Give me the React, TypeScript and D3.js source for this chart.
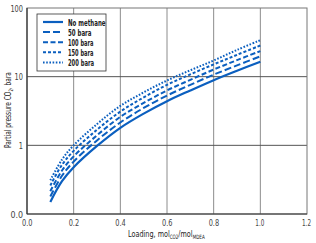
import { curveCatmullRom, line as d3Line, scaleLinear, scaleLog } from "d3";
import { useLayoutEffect, useRef, useState } from "react";

const loadings = [0.1, 0.15, 0.2, 0.3, 0.4, 0.5, 0.6, 0.7, 0.8, 0.9, 1.0];
const noMethane = [0.15, 0.3, 0.48, 0.98, 1.8, 2.9, 4.4, 6.3, 8.9, 12.2, 16.5];
const bara50 = [0.18, 0.36, 0.58, 1.18, 2.15, 3.5, 5.3, 7.6, 10.7, 14.6, 19.8];
const bara100 = [0.215, 0.43, 0.69, 1.4, 2.6, 4.15, 6.3, 9.0, 12.7, 17.4, 23.6];
const bara150 = [0.26, 0.52, 0.83, 1.69, 3.1, 5.0, 7.6, 10.8, 15.1, 20.8, 28.4];
const bara200 = [0.31, 0.62, 1.0, 2.04, 3.75, 5.9, 8.8, 12.4, 17.2, 24.5, 34];

const seriesNames = ["No methane", "50 bara", "100 bara", "150 bara", "200 bara"];
const seriesValues = [noMethane, bara50, bara100, bara150, bara200];
const legendWidths = [37.5, 23.5, 25.5, 25.5, 26];
const dashes = ["", "7,3", "5,2.5", "3,2", "1.6,1.6"];

const xTicks = [0, 0.2, 0.4, 0.6, 0.8, 1.0, 1.2];
const xTickLabels = ["0.0", "0.2", "0.4", "0.6", "0.8", "1.0", "1.2"];
const yTicks = [0.1, 1, 10, 100];
const yTickLabels = ["0.0", "1", "10", "100"];

const W = 316;
const H = 243;
const M = { top: 8, right: 9, bottom: 29, left: 27 };
const BLUE = "#0b5fbf";
const FONT = "'DejaVu Sans Condensed', 'Liberation Sans Narrow', Roboto, sans-serif";
const X_TITLE_W = 77;
const Y_TITLE_W = 76;

export default function App() {
  const xTitleRef = useRef<SVGTextElement | null>(null);
  const yTitleRef = useRef<SVGTextElement | null>(null);
  const [scales, setScales] = useState({ x: 1, y: 1 });

  useLayoutEffect(() => {
    const xw = xTitleRef.current?.getBBox().width || X_TITLE_W;
    const yw = yTitleRef.current?.getBBox().width || Y_TITLE_W;
    setScales({ x: X_TITLE_W / xw, y: Y_TITLE_W / yw });
  }, []);

  const x = scaleLinear().domain([0, 1.2]).range([M.left, W - M.right]);
  const y = scaleLog().domain([0.1, 100]).range([H - M.bottom, M.top]);

  const makeLine = (vals: number[]) =>
    d3Line<number>()
      .x((_, i) => x(loadings[i]))
      .y((d) => y(d))
      .curve(curveCatmullRom.alpha(0.5))(vals) ?? "";

  const legX = 37;
  const legY = 14;

  return (
    <svg
      width={W}
      height={H}
      style={{ position: "absolute", left: 0, top: 0, background: "#fff" }}
      fontFamily={FONT}
      fontStretch="condensed"
    >
      {xTicks.slice(1, -1).map((t) => (
        <line key={`gx${t}`} x1={x(t)} x2={x(t)} y1={M.top} y2={H - M.bottom} stroke="#8c8c8c" strokeWidth={1} />
      ))}
      {yTicks.slice(1, -1).map((t) => (
        <line key={`gy${t}`} x1={M.left} x2={W - M.right} y1={y(t)} y2={y(t)} stroke="#555" strokeWidth={1} />
      ))}
      <rect
        x={M.left}
        y={M.top}
        width={W - M.left - M.right}
        height={H - M.top - M.bottom}
        fill="none"
        stroke="#777"
        strokeWidth={1}
      />
      <line x1={M.left} x2={M.left} y1={M.top} y2={H - M.bottom} stroke="#333" strokeWidth={1.2} />
      <line x1={M.left} x2={W - M.right} y1={H - M.bottom} y2={H - M.bottom} stroke="#333" strokeWidth={1.2} />

      {seriesValues.map((vals, i) => (
        <path
          key={seriesNames[i]}
          d={makeLine(vals)}
          fill="none"
          stroke={BLUE}
          strokeWidth={i === 0 ? 2.2 : 2}
          strokeDasharray={dashes[i] || undefined}
        />
      ))}

      {xTicks.map((t, i) => (
        <text
          key={`xt${t}`}
          x={x(t) - 5}
          y={H - M.bottom + 12}
          fontSize={9.5}
          fill="#444"
          textLength={t === 1.0 || t === 1.2 ? 9 : 10.5}
          lengthAdjust="spacingAndGlyphs"
        >
          {xTickLabels[i]}
        </text>
      ))}
      {yTicks.map((t, i) => (
        <text
          key={`yt${t}`}
          x={M.left - 4 - yTickLabels[i].length * 4.2}
          y={y(t) + 3.5}
          fontSize={9.5}
          fill="#444"
          textLength={yTickLabels[i].length * 4.2}
          lengthAdjust="spacingAndGlyphs"
        >
          {yTickLabels[i]}
        </text>
      ))}

      <text
        ref={xTitleRef}
        transform={`translate(128,237) scale(${scales.x},1)`}
        fontSize={9.5}
        fill="#222"
      >
        Loading, mol
        <tspan fontSize={6} dy={2}>CO2</tspan>
        <tspan dy={-2}>/mol</tspan>
        <tspan fontSize={6} dy={2}>MDEA</tspan>
      </text>
      <text
        ref={yTitleRef}
        transform={`translate(11,148) rotate(-90) scale(${scales.y},1)`}
        fontSize={9.5}
        fill="#222"
      >
        Partial pressure CO
        <tspan fontSize={6} dy={2}>2</tspan>
        <tspan dy={-2}>, bara</tspan>
      </text>

      <rect x={legX} y={legY} width={69} height={57} fill="#fff" stroke="#333" strokeWidth={0.8} />
      {seriesNames.map((name, i) => (
        <g key={`lg${name}`}>
          <line
            x1={legX + 6}
            x2={legX + 26}
            y1={legY + 8 + i * 10.1}
            y2={legY + 8 + i * 10.1}
            stroke={BLUE}
            strokeWidth={i === 0 ? 2.2 : 2}
            strokeDasharray={dashes[i] || undefined}
          />
          <text
            x={legX + 31}
            y={legY + 11.5 + i * 10.1}
            fontSize={9.5}
            fontWeight="bold"
            fill="#222"
            textLength={legendWidths[i]}
            lengthAdjust="spacingAndGlyphs"
          >
            {name}
          </text>
        </g>
      ))}
    </svg>
  );
}
